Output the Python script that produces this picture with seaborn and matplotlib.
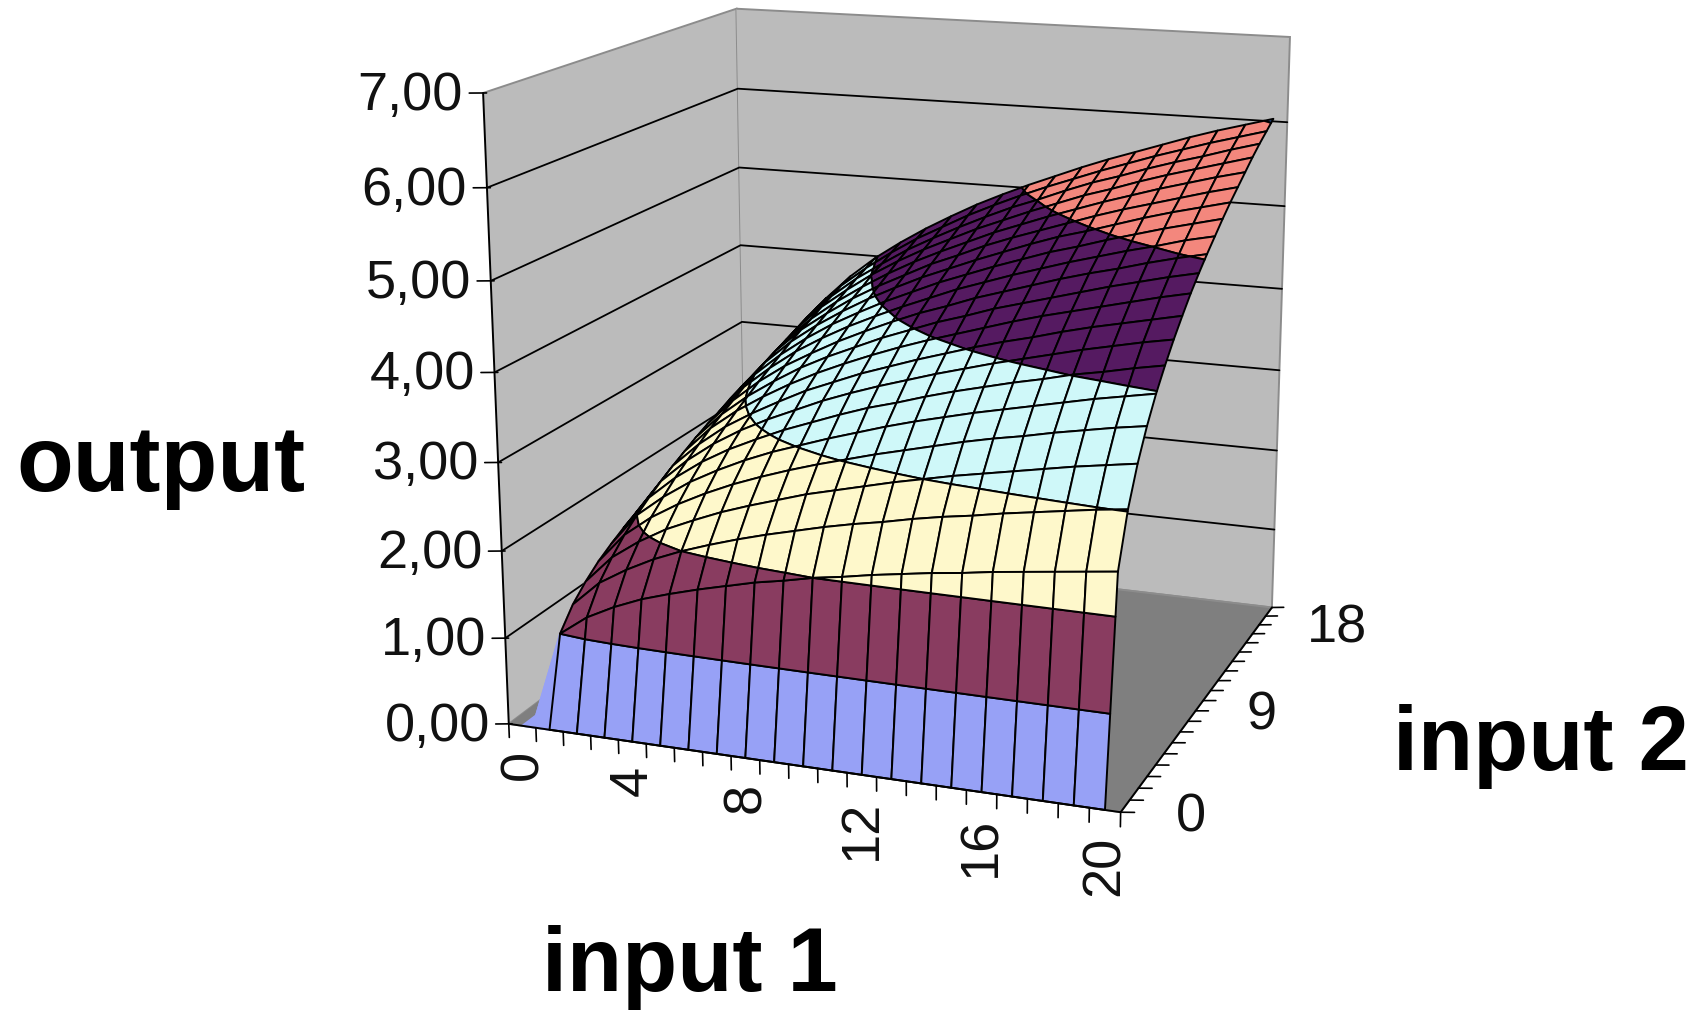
import numpy as np
import matplotlib
matplotlib.use("Agg")
import matplotlib.pyplot as plt
import seaborn as sns
from mpl_toolkits.mplot3d import proj3d
from mpl_toolkits.mplot3d.art3d import Poly3DCollection

input_1 = list(range(21))
input_2 = list(range(21))
output = [
    [0.0] * 21,
    [0, 1.00, 1.23, 1.39, 1.52, 1.62, 1.71, 1.79, 1.87, 1.93, 2.00, 2.05, 2.11, 2.16, 2.21, 2.25, 2.30, 2.34, 2.38, 2.42, 2.46],
    [0, 1.23, 1.52, 1.71, 1.87, 2.00, 2.11, 2.21, 2.30, 2.38, 2.46, 2.53, 2.59, 2.66, 2.72, 2.77, 2.83, 2.88, 2.93, 2.98, 3.02],
    [0, 1.39, 1.71, 1.93, 2.11, 2.25, 2.38, 2.49, 2.59, 2.69, 2.77, 2.85, 2.93, 3.00, 3.07, 3.13, 3.19, 3.25, 3.31, 3.36, 3.41],
    [0, 1.52, 1.87, 2.11, 2.30, 2.46, 2.60, 2.72, 2.83, 2.93, 3.02, 3.11, 3.19, 3.27, 3.35, 3.42, 3.48, 3.55, 3.61, 3.67, 3.72],
    [0, 1.62, 2.00, 2.25, 2.46, 2.63, 2.78, 2.91, 3.02, 3.13, 3.23, 3.33, 3.42, 3.50, 3.58, 3.65, 3.72, 3.79, 3.86, 3.92, 3.98],
    [0, 1.71, 2.11, 2.38, 2.60, 2.78, 2.93, 3.07, 3.19, 3.31, 3.42, 3.51, 3.61, 3.70, 3.78, 3.86, 3.93, 4.01, 4.07, 4.14, 4.20],
    [0, 1.79, 2.21, 2.49, 2.72, 2.91, 3.07, 3.21, 3.35, 3.47, 3.58, 3.68, 3.78, 3.87, 3.96, 4.04, 4.12, 4.20, 4.27, 4.34, 4.40],
    [0, 1.87, 2.30, 2.59, 2.83, 3.02, 3.19, 3.35, 3.48, 3.61, 3.72, 3.83, 3.93, 4.03, 4.12, 4.20, 4.29, 4.37, 4.44, 4.51, 4.58],
    [0, 1.93, 2.38, 2.69, 2.93, 3.13, 3.31, 3.47, 3.61, 3.74, 3.86, 3.97, 4.07, 4.17, 4.27, 4.36, 4.44, 4.52, 4.60, 4.68, 4.75],
    [0, 2.00, 2.46, 2.77, 3.02, 3.23, 3.42, 3.58, 3.72, 3.86, 3.98, 4.10, 4.20, 4.31, 4.40, 4.49, 4.58, 4.67, 4.75, 4.83, 4.90],
    [0, 2.05, 2.53, 2.85, 3.11, 3.33, 3.51, 3.68, 3.83, 3.97, 4.10, 4.21, 4.33, 4.43, 4.53, 4.63, 4.72, 4.80, 4.89, 4.97, 5.04],
    [0, 2.11, 2.59, 2.93, 3.19, 3.42, 3.61, 3.78, 3.93, 4.07, 4.20, 4.33, 4.44, 4.55, 4.65, 4.75, 4.84, 4.93, 5.01, 5.10, 5.17],
    [0, 2.16, 2.66, 3.00, 3.27, 3.50, 3.70, 3.87, 4.03, 4.17, 4.31, 4.43, 4.55, 4.66, 4.77, 4.86, 4.96, 5.05, 5.14, 5.22, 5.30],
    [0, 2.21, 2.72, 3.07, 3.35, 3.58, 3.78, 3.96, 4.12, 4.27, 4.40, 4.53, 4.65, 4.77, 4.88, 4.97, 5.07, 5.17, 5.26, 5.34, 5.42],
    [0, 2.25, 2.77, 3.13, 3.42, 3.65, 3.86, 4.04, 4.20, 4.36, 4.49, 4.63, 4.75, 4.86, 4.97, 5.08, 5.18, 5.27, 5.36, 5.45, 5.53],
    [0, 2.30, 2.83, 3.19, 3.48, 3.72, 3.93, 4.12, 4.29, 4.44, 4.58, 4.72, 4.84, 4.96, 5.07, 5.18, 5.28, 5.38, 5.47, 5.56, 5.64],
    [0, 2.34, 2.88, 3.25, 3.55, 3.79, 4.01, 4.20, 4.37, 4.52, 4.67, 4.80, 4.93, 5.05, 5.17, 5.27, 5.38, 5.48, 5.57, 5.66, 5.75],
    [0, 2.38, 2.93, 3.31, 3.61, 3.86, 4.07, 4.27, 4.44, 4.60, 4.75, 4.89, 5.01, 5.14, 5.26, 5.36, 5.47, 5.57, 5.66, 5.76, 5.85],
    [0, 2.42, 2.98, 3.36, 3.67, 3.92, 4.14, 4.34, 4.51, 4.68, 4.83, 4.97, 5.10, 5.22, 5.34, 5.45, 5.56, 5.66, 5.76, 5.85, 5.94],
    [0, 2.46, 3.02, 3.41, 3.72, 3.98, 4.20, 4.40, 4.58, 4.75, 4.90, 5.04, 5.17, 5.30, 5.42, 5.53, 5.64, 5.75, 5.85, 5.94, 6.03],
]
x_labels = [0, 4, 8, 12, 16, 20]
y_labels = [0, 9, 18]
z_labels = ["0,00", "1,00", "2,00", "3,00", "4,00", "5,00", "6,00", "7,00"]
band_colors = ["#97A1F6", "#893C60", "#FEF8CB", "#CFF8F9", "#551A61", "#F3877D", "#2A5CAA"]

W, H = 1708, 1010
sns.set_theme(style="white")
plt.rcParams["font.family"] = ["Liberation Sans", "DejaVu Sans"]

fig = plt.figure(figsize=(W / 100, H / 100), dpi=100)
ax = fig.add_subplot(projection="3d")
ax.set_xlim(0, 21, view_margin=0)
ax.set_ylim(0, 20, view_margin=0)
ax.set_zlim(0, 7, view_margin=0)
ax.view_init(15.115, -69.656, 0.1375)
ax.set_proj_type("persp", focal_length=0.5311)
ax.set_box_aspect((1, 0.9375, 1.0017))
ax.set_position([385.78 / W, 114.74 / H, 1020.38 / W, 1020.38 / H])
ax.patch.set_visible(False)

for axis, color in ((ax.xaxis, "#BBBBBB"), (ax.yaxis, "#BBBBBB"), (ax.zaxis, "#7F7F7F")):
    axis.set_pane_color(color)
    axis.pane.set_edgecolor("#8C8C8C")
    axis.pane.set_linewidth(1.4)
    axis.line.set_color((0, 0, 0, 0))
ax.set_xticks([])
ax.set_yticks([])
ax.set_zticks([])
ax.grid(False)
ax.computed_zorder = False


def clip(poly, level, keep_above):
    # keep the part of a polygon on one side of a height level
    out = []
    for a, b in zip(poly, poly[1:] + poly[:1]):
        ina = a[2] >= level if keep_above else a[2] <= level
        inb = b[2] >= level if keep_above else b[2] <= level
        if ina:
            out.append(a)
        if ina != inb:
            t = (level - a[2]) / (b[2] - a[2])
            out.append(tuple(a[i] + t * (b[i] - a[i]) for i in range(3)))
    return out


def label(x, y, z, text, **kw):
    # flat text at a projected axis position
    px, py, _ = proj3d.proj_transform(x, y, z, ax.get_proj())
    ax.text2D(px, py, text, transform=ax.transData, fontsize=39, color="#111111", zorder=7, **kw)


Z = np.array(output, float)
X = np.array(input_1) + 0.5
Y = np.array(input_2, float)
polys, faces, edges = [], [], []
for i in range(len(X) - 1):
    for j in range(len(Y) - 1):
        quad = [(X[i], Y[j], Z[i, j]), (X[i + 1], Y[j], Z[i + 1, j]),
                (X[i + 1], Y[j + 1], Z[i + 1, j + 1]), (X[i], Y[j + 1], Z[i, j + 1])]
        for b, col in enumerate(band_colors):
            part = clip(quad, b, True)
            if len(part) >= 3:
                part = clip(part, b + 1, False)
            if len(part) < 3 or max(q[2] for q in part) - min(q[2] for q in part) < 1e-9:
                continue
            polys.append(part)
            faces.append(col)
            edges.append(col if i == 0 else "black")
ax.add_collection3d(Poly3DCollection(polys, facecolors=faces, edgecolors=edges, linewidths=1.4, zorder=5))

# walls: height lines, axes lines
for k in range(1, 7):
    ax.plot([0, 0, 21], [0, 20, 20], [k, k, k], color="black", lw=1.3, zorder=2)
ax.plot([0, 21, 21], [0, 0, 20], [0, 0, 0], color="black", lw=1.4, zorder=6)
ax.plot([0, 0], [0, 0], [0, 7], color="black", lw=1.4, zorder=6)

for k, lab in enumerate(z_labels):
    ax.plot([0.1, -0.4], [0.04, -0.16], [k, k], color="black", lw=1.2, zorder=6)
    label(-0.58, -0.24, k - 0.03, lab, ha="right", va="center")
for t in range(22):
    ax.plot([t, t], [0, 0], [0, -0.16], color="black", lw=1.2, zorder=6)
for t in range(21):
    ax.plot([21, 21.44], [t, t], [0, 0.02], color="black", lw=1.2, zorder=6)
for t in x_labels:
    label(t + 0.5, 0, -0.28, str(t), rotation=90, ha="center", va="top")
for t in y_labels:
    label(22.75, t, 0.03, str(t), ha="left", va="center")

fig.text(16 / W, 1 - 491 / H, "output", fontsize=67, fontweight="bold", color="black")
fig.text(542 / W, 1 - 991 / H, "input 1", fontsize=65, fontweight="bold", color="black")
fig.text(1393 / W, 1 - 770 / H, "input 2", fontsize=65, fontweight="bold", color="black")

fig.savefig("out.png", dpi=100)
